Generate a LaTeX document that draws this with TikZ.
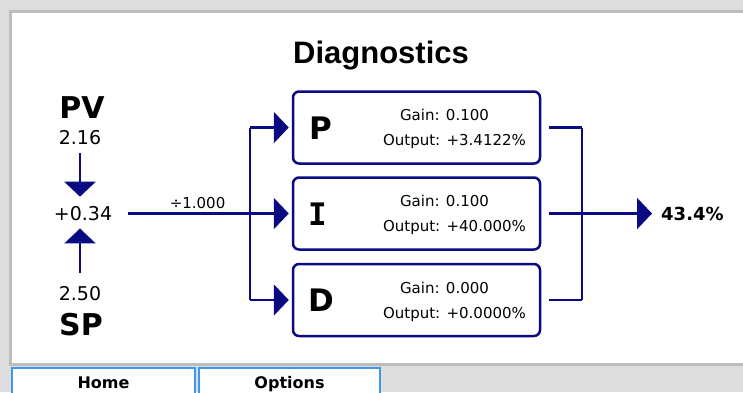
\documentclass[tikz,border=0pt]{standalone}
\usepackage{fontspec}
\setmainfont{DejaVu Sans}
\newfontfamily\titlefont{Liberation Sans}
\newfontfamily\monofont{DejaVu Sans Mono}
\usetikzlibrary{arrows.meta}
\definecolor{navyline}{RGB}{10,10,130}
\definecolor{bgray}{HTML}{DDDDDD}
\definecolor{bordergray}{HTML}{BDBDBD}
\definecolor{tabblue}{HTML}{3C96F0}
\tikzset{
  fs/.style={font=\fontsize{#1}{#1}\selectfont},
  pidbox/.style={draw=navyline, line width=2.5pt, rounded corners=6pt, fill=white,
    minimum width=247pt, minimum height=72pt, inner sep=0pt},
  wire/.style={draw=navyline, line width=2.5pt},
  arr/.style={wire, -{Triangle[length=15pt,width=31pt]}},
  lbl/.style={anchor=base, inner sep=0pt},
  tab/.style={draw=tabblue, line width=1.5pt, fill=white},
}
\begin{document}
\begin{tikzpicture}[x=1pt,y=-1pt]
\path[use as bounding box, fill=bgray] (0,0) rectangle (743,392);
% panel
\draw[draw=bordergray, line width=3pt, fill=white] (10,11) rectangle (760,364);
% tabs
\draw[tab] (12,368) rectangle (195,400);
\draw[tab] (199,368) rectangle (380,400);
\node[lbl, font=\bfseries\fontsize{16}{16}\selectfont] (home) at (103.5,388) {Home};
\node[lbl, font=\bfseries\fontsize{16}{16}\selectfont] (options) at (289.5,388) {Options};
% title
\node[lbl, font=\titlefont\bfseries\fontsize{31}{31}\selectfont] (title) at (381,63) {Diagnostics};
% left column
\node[lbl, font=\bfseries\fontsize{30}{30}\selectfont] (pv) at (82,118) {PV};
\node[lbl, fs=19] (pvval) at (80,144) {2.16};
\node[lbl, fs=19] (sum) at (83,220) {+0.34};
\node[lbl, fs=19] (spval) at (80,300) {2.50};
\node[lbl, font=\bfseries\fontsize{30}{30}\selectfont] (sp) at (81,335) {SP};
\draw[arr, shorten <=9pt, shorten >=9pt] (pvval.south) -- (pvval.south |- sum.north);
\draw[arr, shorten <=13pt, shorten >=8pt] (spval.north) -- (spval.north |- sum.south);
% boxes
\node[pidbox] (P) at (416.5,127.5) {};
\node[pidbox] (I) at (416.5,213.5) {};
\node[pidbox] (D) at (416.5,300) {};
\node[lbl, font=\bfseries\fontsize{31}{31}\selectfont] (Pletter) at ([xshift=-96pt,yshift=-11.5pt]P.center) {P};
\node[lbl, font=\monofont\bfseries\fontsize{31}{31}\selectfont] (Iletter) at ([xshift=-99pt,yshift=-11.5pt]I.center) {I};
\node[lbl, font=\bfseries\fontsize{31}{31}\selectfont] (Dletter) at ([xshift=-95pt,yshift=-11.5pt]D.center) {D};
\foreach \b/\g/\o in {P/0.100/+3.4122\%, I/0.100/+40.000\%, D/0.000/+0.0000\%}{
  \node[lbl, fs=15] (\b gain) at ([xshift=28pt,yshift=7pt]\b.center) {Gain: \g};
  \node[lbl, fs=15] (\b out) at ([xshift=38pt,yshift=-18pt]\b.center) {Output: \o};
}
% left wiring
\coordinate (jP) at (250,127.5);
\coordinate (jD) at (250,300);
\draw[wire] (jP) -- (jD);
\draw[arr, shorten >=3pt] (jP) -- (P.west);
\draw[arr, shorten >=3pt] (jD) -- (D.west);
\draw[arr, shorten <=16pt, shorten >=3pt] (sum.east |- I.west) -- (I.west)
  node[pos=0.475, above=4pt, fs=15, inner sep=0pt] (scale) {÷1.000};
% right wiring
\coordinate (kP) at (582,127.5);
\coordinate (kD) at (582,300);
\draw[wire] (kP) -- (kD);
\draw[wire, shorten <=8pt] (P.east) -- (kP);
\draw[wire, shorten <=8pt] (D.east) -- (kD);
\node[anchor=west, inner sep=0pt, font=\bfseries\fontsize{18}{18}\selectfont] (out) at (661,213.5) {43.4\%};
\draw[arr, shorten <=8pt, shorten >=9pt] (I.east) -- (out.west);
\end{tikzpicture}
\end{document}
